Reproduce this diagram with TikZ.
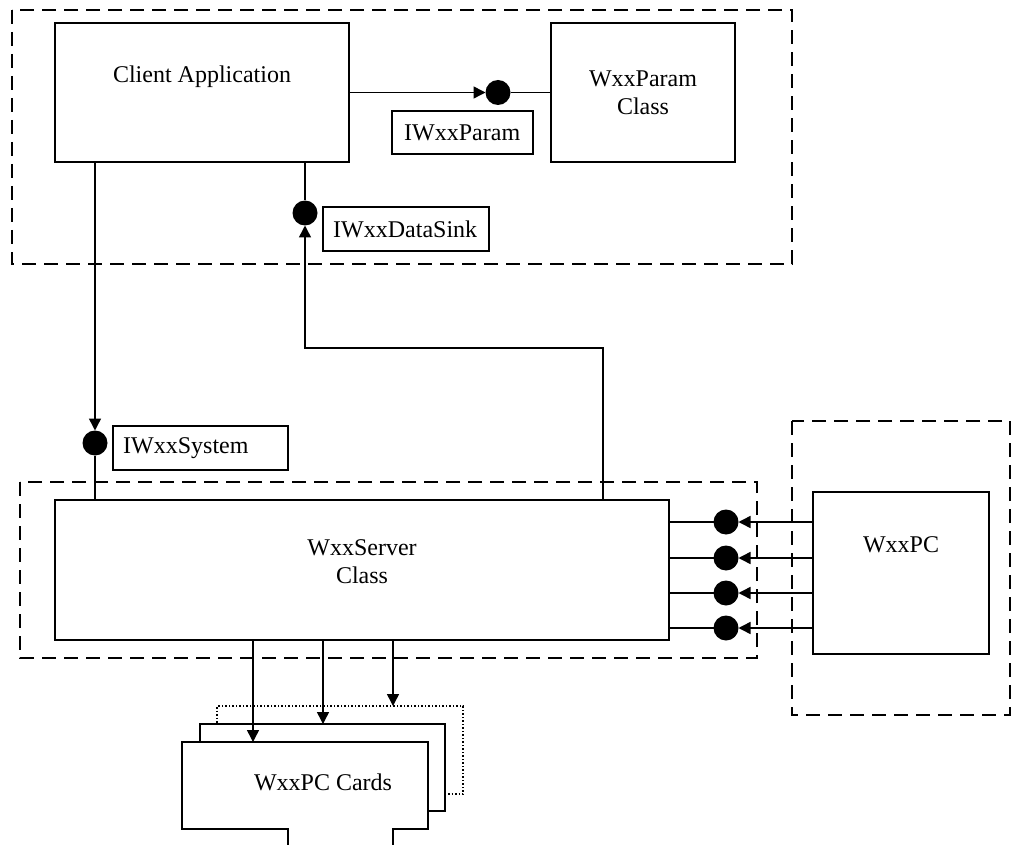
\documentclass[tikz,border=0pt]{standalone}
\usepackage{fontspec}
\setmainfont{Liberation Serif}
\usetikzlibrary{arrows.meta}
\begin{document}
\begin{tikzpicture}[x=1pt,y=-1pt,
  box/.style={draw,line width=1.5pt,inner sep=0pt,outer sep=0pt},
  grp/.style={draw,line width=1.5pt,dash pattern=on 14pt off 8pt},
  tfont/.style={font=\fontsize{24}{28}\selectfont},
  txt/.style={tfont,align=center,inner sep=0pt},
  ltxt/.style={tfont,anchor=west,inner sep=0pt},
  ball/.style={circle,fill,minimum size=25pt,inner sep=0pt,outer sep=0pt},
  conn/.style={line width=1.5pt},
  arr/.style={conn,-{Triangle[length=12pt,width=12pt]}},
  card/.style={line width=1.5pt,fill=white,inner sep=0pt,outer sep=0pt}]
\useasboundingbox (0,0) rectangle (1012,845);

% group frames
\draw[grp] (12,10) rectangle (792,264);
\draw[grp] (20,482) rectangle (757,658);
\draw[grp] (792,421) rectangle (1010,715);

% main boxes
\node[box,minimum width=294pt,minimum height=139pt] (client) at (202,92.5) {};
\node[txt] (clientT) at (202,77) {Client Application};
\node[box,txt,minimum width=184pt,minimum height=139pt] (param) at (643,92.5) {WxxParam\\Class};
\node[box,minimum width=614pt,minimum height=140pt] (server) at (362,570) {};
\node[txt] (serverT) at (362,562) {WxxServer\\Class};
\node[box,minimum width=176pt,minimum height=162pt] (pc) at (901,573) {};
\node[txt] (pcT) at (901,545) {WxxPC};

% interface labels
\node[box,minimum width=141pt,minimum height=43pt] (lparam) at (462.5,132.5) {};
\node[ltxt] at ([xshift=12pt]lparam.west) {IWxxParam};
\node[box,minimum width=166pt,minimum height=44pt] (lsink) at (406,229) {};
\node[ltxt] at ([xshift=10pt]lsink.west) {IWxxDataSink};
\node[box,minimum width=175pt,minimum height=44pt] (lsys) at (200.5,448) {};
\node[ltxt] at ([xshift=10pt]lsys.west) {IWxxSystem};

% interface balls
\node[ball] (pball) at (498,92.5) {};
\node[ball] (dball) at (305,213) {};
\node[ball] (sball) at (95,443) {};
\node[ball] (rb1) at (726,522) {};
\node[ball] (rb2) at (726,558) {};
\node[ball] (rb3) at (726,593) {};
\node[ball] (rb4) at (726,628) {};

% cards
\node[card,draw,dash pattern=on 1.5pt off 2pt,line width=1.2pt,minimum width=246pt,minimum height=88pt] (card3) at (340,750) {};
\node[card,draw,minimum width=245pt,minimum height=87pt] (card2) at (322.5,767.5) {};
\node[card,minimum width=246pt,minimum height=87pt] (card1) at (305,785.5) {};
\coordinate (tabL) at (288,850);
\coordinate (tabR) at (393,850);
\draw[conn,line join=miter] (tabL) -- (tabL |- card1.south) -- (card1.south west) -- (card1.north west)
  -- (card1.north east) -- (card1.south east) -- (tabR |- card1.south) -- (tabR);
\node[txt] (cardT) at (323,782) {WxxPC Cards};

% connectors
\draw[arr] (client.east) -- (pball);
\draw[conn] (pball) -- (param.west);

\draw[conn] (client.south -| dball) -- (dball);
\coordinate (dturn) at (603,348);
\draw[arr] (server.north -| dturn) -- (dturn) -| (dball);

\draw[arr] (client.south -| sball) -- (sball);
\draw[conn] (sball) -- (server.north -| sball);

\foreach \b in {rb1,rb2,rb3,rb4}{
  \draw[conn] (server.east |- \b) -- (\b);
  \draw[arr] (pc.west |- \b) -- (\b);
}

\coordinate (ca1) at (253,0);
\coordinate (ca2) at (323,0);
\coordinate (ca3) at (393,0);
\draw[arr] (server.south -| ca1) -- (card1.north -| ca1);
\draw[arr] (server.south -| ca2) -- (card2.north -| ca2);
\draw[arr] (server.south -| ca3) -- (card3.north -| ca3);
\end{tikzpicture}
\end{document}
